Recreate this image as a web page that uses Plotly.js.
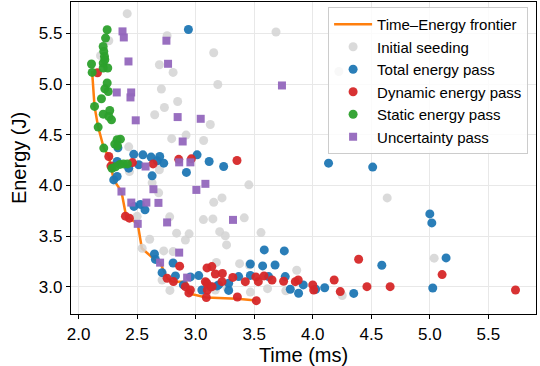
<!DOCTYPE html>
<html>
<head>
<meta charset="utf-8">
<script src="https://cdn.plot.ly/plotly-3.0.1.min.js"></script>
<style>html,body{margin:0;padding:0;background:#fff;}#chart{width:540px;height:366px;}</style>
</head>
<body>
<div id="chart"></div>
<script>
// ---- Data ----
const frontierTime   = [2.115, 2.136, 2.167, 2.215, 2.258, 2.276, 2.300, 2.366, 2.405, 2.434, 2.505, 2.540, 2.651, 2.696, 2.756, 2.800, 2.920, 2.950, 3.091, 3.356, 3.518];
const frontierEnergy = [5.130, 4.779, 4.575, 4.368, 4.285, 4.195, 4.054, 3.939, 3.700, 3.676, 3.620, 3.379, 3.265, 3.237, 3.083, 3.050, 3.045, 2.930, 2.893, 2.880, 2.862];

const seedTime   = [2.415, 2.756, 2.258, 3.154, 2.690, 2.807, 3.189, 2.707, 2.846, 2.733, 2.650, 2.187, 3.686, 4.223, 3.125, 2.918, 2.795, 3.068, 2.428, 2.690, 2.434, 2.628, 2.684, 3.454, 3.225, 3.154, 2.500, 2.778, 3.066, 3.147, 3.415, 2.837, 2.944, 2.912, 2.607, 2.543, 2.727, 2.807, 3.205, 3.253, 3.558, 3.264, 3.177, 3.375, 3.458, 3.863, 3.168, 3.268, 3.467, 3.614, 3.770, 4.252, 2.713, 2.780, 4.636, 5.037];
const seedEnergy = [5.695, 5.477, 5.428, 5.309, 5.191, 5.115, 4.996, 4.951, 4.828, 4.769, 4.697, 5.280, 5.514, 5.124, 4.601, 4.496, 4.461, 4.443, 4.380, 4.153, 4.136, 4.025, 3.926, 4.005, 3.876, 3.832, 3.694, 3.689, 3.662, 3.669, 3.679, 3.528, 3.521, 3.461, 3.468, 3.379, 3.353, 3.346, 3.543, 3.503, 3.534, 3.412, 3.239, 3.227, 3.214, 3.162, 2.967, 2.990, 2.946, 2.980, 2.960, 2.913, 3.066, 2.963, 3.876, 3.281];

const totalTime   = [2.938, 2.336, 2.471, 2.549, 2.619, 2.693, 2.727, 2.671, 2.514, 2.628, 2.329, 2.329, 2.300, 2.428, 2.921, 3.012, 3.115, 3.239, 4.135, 4.512, 2.473, 2.528, 2.567, 5.000, 5.017, 5.139, 4.590, 5.025,
                     2.648, 2.656, 2.807, 2.713, 2.827, 3.053, 3.183, 3.586, 3.757, 3.467, 3.572, 3.678, 3.026, 3.367, 3.467, 3.623, 3.765, 3.282, 3.196, 3.125, 3.808, 3.879, 3.919, 4.102, 4.025, 4.350, 3.282, 2.955, 2.895];
const totalEnergy = [5.539, 4.370, 4.306, 4.301, 4.279, 4.285, 4.219, 4.242, 4.203, 4.094, 4.235, 4.087, 4.054, 4.170, 4.128, 4.301, 4.235, 4.186, 4.219, 4.180, 3.792, 3.812, 3.758, 3.718, 3.629, 3.284, 3.211, 2.987,
                     3.323, 3.269, 3.234, 3.138, 3.106, 2.967, 3.007, 3.363, 3.353, 3.224, 3.205, 3.214, 3.109, 3.099, 3.111, 3.099, 3.099, 3.034, 3.017, 3.000, 2.974, 2.935, 3.017, 2.989, 2.974, 2.933, 2.963, 3.096, 3.017];

const dynTime   = [2.161, 2.258, 2.276, 2.460, 2.636, 2.855, 2.963, 3.353, 2.400, 2.434, 2.863, 2.756, 2.912, 2.942, 3.091, 3.097, 3.138, 3.168, 3.228, 3.317, 3.083, 3.225, 2.955, 3.100, 3.095, 3.356, 3.424, 3.514, 3.535, 3.584, 3.652, 3.751, 3.851, 4.000, 4.008, 4.183, 4.235, 3.518, 4.392, 4.463, 4.661, 5.105, 5.732, 3.140, 2.810, 3.876];
const dynEnergy = [5.112, 4.285, 4.190, 4.225, 4.212, 4.257, 4.262, 4.245, 3.696, 3.676, 3.202, 3.083, 3.000, 2.938, 2.893, 3.185, 3.198, 3.125, 3.130, 3.091, 3.049, 3.049, 2.967, 2.967, 3.034, 2.898, 3.049, 3.096, 3.049, 3.106, 3.066, 3.053, 3.049, 3.017, 2.967, 3.066, 2.951, 2.862, 3.271, 3.000, 3.000, 3.119, 2.967, 3.000, 3.050, 3.066];

const staticTime   = [2.244, 2.230, 2.210, 2.215, 2.221, 2.210, 2.249, 2.110, 2.116, 2.210, 2.244, 2.224, 2.253, 2.195, 2.136, 2.266, 2.210, 2.281, 2.258, 2.167, 2.329, 2.357, 2.309, 2.332, 2.215, 2.315, 2.353, 2.383, 2.417, 2.285, 2.224];
const staticEnergy = [5.536, 5.454, 5.371, 5.322, 5.273, 5.207, 5.158, 5.198, 5.115, 5.158, 5.010, 4.953, 4.927, 4.855, 4.779, 4.739, 4.703, 4.647, 4.680, 4.575, 4.450, 4.456, 4.407, 4.390, 4.368, 4.183, 4.207, 4.212, 4.212, 4.168, 5.240];

const uncTime   = [2.375, 2.386, 2.750, 2.426, 2.764, 2.449, 2.443, 2.326, 2.846, 3.043, 2.488, 3.737, 2.889, 2.572, 2.859, 2.955, 2.366, 2.639, 3.006, 3.083, 2.450, 2.579, 2.682, 2.505, 2.756, 3.319, 2.859, 2.696, 2.927];
const uncEnergy = [5.520, 5.460, 5.428, 5.223, 5.200, 4.917, 4.868, 4.917, 4.674, 4.657, 4.642, 4.986, 4.433, 4.186, 4.227, 4.227, 3.939, 3.962, 3.955, 4.015, 3.830, 3.830, 3.827, 3.620, 3.634, 3.659, 3.336, 3.237, 3.089];

const xTickVals = [2.0, 2.5, 3.0, 3.5, 4.0, 4.5, 5.0, 5.5];
const yTickVals = [3.0, 3.5, 4.0, 4.5, 5.0, 5.5];

// ---- Traces ----
function dots(name, x, y, color, symbol, size, opacity) {
  return {type: 'scatter', mode: 'markers', name: name, x: x, y: y,
    marker: {color: color, symbol: symbol, size: size, opacity: opacity, line: {width: 0}}};
}
const traces = [
  {type: 'scatter', mode: 'lines', name: 'Time–Energy frontier', x: frontierTime, y: frontierEnergy,
   line: {color: '#ff7f0e', width: 2.5}},
  dots('Initial seeding', seedTime, seedEnergy, '#d3d3d3', 'circle', 9, 0.85),
  dots('Total energy pass', totalTime, totalEnergy, '#1f77b4', 'circle', 9, 0.95),
  dots('Dynamic energy pass', dynTime, dynEnergy, '#d62728', 'circle', 9, 0.95),
  dots('Static energy pass', staticTime, staticEnergy, '#2ca02c', 'circle', 9, 0.95),
  dots('Uncertainty pass', uncTime, uncEnergy, '#9467bd', 'square', 8, 0.95)
];

const axisCommon = {
  showline: true, mirror: true, linecolor: '#000', linewidth: 1.2,
  ticks: 'outside', ticklen: 4, tickwidth: 1, tickcolor: '#000',
  showgrid: true, gridcolor: '#e8e8e8', gridwidth: 1, zeroline: false,
  tickformat: '.1f', tickfont: {size: 17, color: '#000'}
};

const layout = {
  width: 540, height: 366,
  margin: {l: 71, r: 4, t: 2, b: 52},
  paper_bgcolor: '#fff', plot_bgcolor: '#fff',
  font: {family: '"Liberation Sans", Arial, sans-serif', color: '#000'},
  xaxis: Object.assign({}, axisCommon, {
    range: [1.935, 5.907], tickmode: 'array', tickvals: xTickVals,
    title: {text: 'Time (ms)', font: {size: 20}, standoff: 4}
  }),
  yaxis: Object.assign({}, axisCommon, {
    range: [2.73, 5.81], tickmode: 'array', tickvals: yTickVals,
    title: {text: 'Energy (J)', font: {size: 20}, standoff: 6}
  }),
  showlegend: true,
  legend: {
    x: 0.983, xanchor: 'right', y: 0.984, yanchor: 'top',
    bgcolor: 'rgba(255,255,255,0.8)', bordercolor: '#cccccc', borderwidth: 1,
    itemwidth: 38,
    font: {size: 15, color: '#000'}
  }
};

Plotly.newPlot('chart', traces, layout, {staticPlot: true, displayModeBar: false});
</script>
</body>
</html>
